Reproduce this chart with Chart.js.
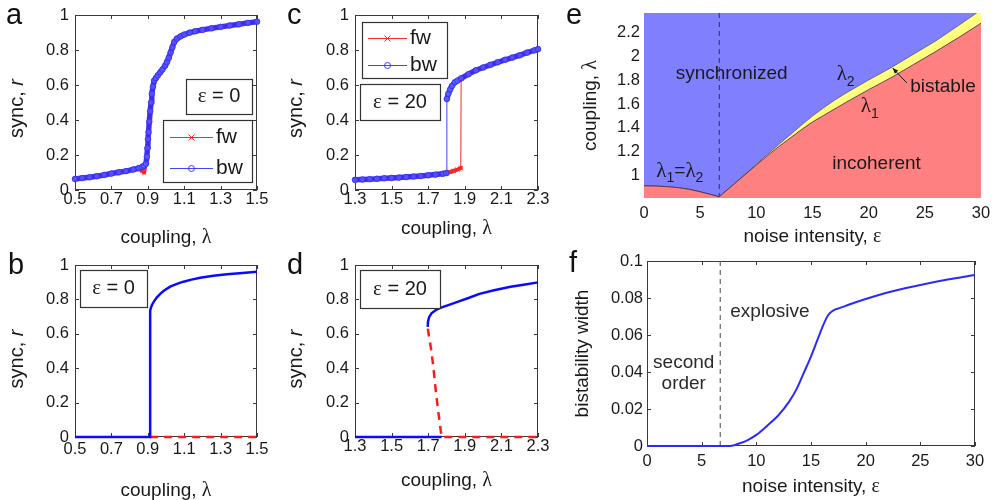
<!DOCTYPE html>
<html>
<head>
<meta charset="utf-8">
<script src="https://cdn.jsdelivr.net/npm/chart.js@4.4.1/dist/chart.umd.min.js"></script>
<style>
  body { margin: 0; background: #fff; }
  #wrap { position: relative; width: 995px; height: 500px; overflow: hidden; font-family: 'Liberation Sans', Arial, sans-serif; }
  canvas { position: absolute; }
  .tag { position: absolute; font-size: 29px; line-height: 29px; color: #111; z-index: 5; }
</style>
</head>
<body>
<div id="wrap">
  <div class="tag" style="left:6px;top:0px">a</div>
  <div class="tag" style="left:8px;top:250px">b</div>
  <div class="tag" style="left:287px;top:0px">c</div>
  <div class="tag" style="left:287px;top:250px">d</div>
  <div class="tag" style="left:566px;top:0px">e</div>
  <div class="tag" style="left:569px;top:248px">f</div>
  <canvas id="pa"></canvas>
  <canvas id="pb"></canvas>
  <canvas id="pc"></canvas>
  <canvas id="pd"></canvas>
  <canvas id="pe"></canvas>
  <canvas id="pf"></canvas>
</div>
<script>
// ---- data ----
// a: simulation at eps = 0 (forward / backward sweeps)
const aLam = [0.50,0.54,0.58,0.62,0.66,0.70,0.74,0.78,0.82,0.85,0.87,0.88,0.89,0.895,0.898,0.901,0.904,0.908,0.913,0.918,0.922,0.928,0.935,0.945,0.955,0.968,0.98,0.995,1.005,1.015,1.025,1.035,1.045,1.06,1.08,1.10,1.13,1.16,1.20,1.25,1.30,1.35,1.40,1.45,1.50];
const aBw = [0.063,0.068,0.073,0.079,0.086,0.094,0.101,0.108,0.117,0.125,0.133,0.14,0.15,0.19,0.24,0.29,0.33,0.39,0.45,0.50,0.55,0.59,0.625,0.64,0.655,0.672,0.688,0.71,0.73,0.755,0.785,0.815,0.845,0.865,0.878,0.888,0.899,0.907,0.915,0.924,0.932,0.94,0.947,0.955,0.962];
const aFw = [0.063,0.068,0.073,0.079,0.086,0.094,0.101,0.108,0.117,0.12,0.11,0.10,0.16,0.2,0.25,0.3,0.34,0.4,0.46,0.5,0.54,0.58,0.62,0.64,0.657,0.675,0.69,0.712,0.733,0.758,0.79,0.82,0.848,0.866,0.878,0.888,0.899,0.907,0.915,0.924,0.932,0.94,0.947,0.955,0.962];

// b: theory at eps = 0
const bLamStab = [0.5,0.913,0.913,0.918,0.925,0.935,0.95,0.968,0.99,1.023,1.06,1.096,1.14,1.188,1.26,1.335,1.42,1.5];
const bStab = [0,0,0.735,0.755,0.772,0.79,0.812,0.832,0.852,0.874,0.89,0.903,0.915,0.926,0.937,0.946,0.954,0.961];
const bLamUnst = [0.913, 1.5];
const bUnst = [0, 0];

// c: simulation at eps = 20
const cLamBw = [1.30,1.34,1.38,1.42,1.46,1.50,1.54,1.58,1.62,1.66,1.70,1.74,1.78,1.80,1.802,1.81,1.82,1.83,1.845,1.86,1.88,1.92,1.96,2.00,2.04,2.08,2.12,2.16,2.20,2.24,2.28,2.30];
const cBw = [0.058,0.060,0.062,0.064,0.067,0.069,0.071,0.074,0.077,0.080,0.084,0.088,0.093,0.097,0.52,0.55,0.575,0.595,0.615,0.625,0.638,0.662,0.684,0.70,0.715,0.73,0.744,0.757,0.77,0.785,0.798,0.805];
const cLamFw = [1.30,1.34,1.38,1.42,1.46,1.50,1.54,1.58,1.62,1.66,1.70,1.74,1.78,1.80,1.82,1.84,1.86,1.878,1.88,1.92,1.96,2.00,2.04,2.08,2.12,2.16,2.20,2.24,2.28,2.30];
const cFw = [0.058,0.060,0.062,0.064,0.067,0.069,0.071,0.074,0.077,0.080,0.084,0.088,0.093,0.097,0.103,0.110,0.117,0.125,0.636,0.662,0.684,0.70,0.715,0.73,0.744,0.757,0.77,0.785,0.798,0.805];

// d: theory at eps = 20
const dLamLow = [1.3, 1.773];
const dLow = [0, 0];
const dLamUp = [1.697,1.699,1.705,1.718,1.74,1.77,1.81,1.86,1.92,1.98,2.06,2.15,2.23,2.3];
const dUp = [0.64,0.67,0.697,0.719,0.737,0.752,0.767,0.786,0.808,0.832,0.853,0.873,0.887,0.899];
const dLamUnst = [1.698,1.705,1.715,1.727,1.74,1.755,1.773,2.3];
const dUnst = [0.63,0.58,0.516,0.419,0.283,0.147,0,0];

// e: phase diagram, lambda_1 / lambda_2 vs noise
const eEps = [0,1,2,3,4,5,6,6.7,7,8,9,10,11,12,13,14,15,16,17,18,20,22,24,26,28,30];
const eLam1 = [0.917,0.915,0.91,0.902,0.888,0.867,0.843,0.825,0.85,0.93,1.01,1.09,1.17,1.245,1.315,1.385,1.45,1.505,1.56,1.615,1.72,1.82,1.93,2.04,2.155,2.275];
const eLam2 = [0.917,0.915,0.91,0.902,0.888,0.867,0.843,0.825,0.85,0.931,1.013,1.096,1.181,1.262,1.341,1.422,1.499,1.568,1.634,1.692,1.80,1.903,2.016,2.128,2.255,2.385];

// f: bistability width
const fEps = [0,2,4,6,6.7,7.6,8.5,9.3,10,11,12,13,13.7,14.3,14.9,15.5,16,16.4,16.7,17.1,17.6,18.5,20,22,25,27.5,30];
const fW = [0,0,0,0,0,0,0.0015,0.0035,0.006,0.011,0.0165,0.024,0.031,0.039,0.047,0.056,0.0636,0.069,0.0717,0.0735,0.0745,0.0765,0.0795,0.083,0.087,0.09,0.0924];

const EPS_C = 6.7;

// ticks
const tA = [0.5,0.7,0.9,1.1,1.3,1.5];
const tC = [1.3,1.5,1.7,1.9,2.1,2.3];
const tR = [0,0.2,0.4,0.6,0.8,1];
const tEps = [0,5,10,15,20,25,30];
const tLamE = [1,1.2,1.4,1.6,1.8,2,2.2];
const tW = [0,0.02,0.04,0.06,0.08,0.1];

// ---- drawing ----
const SANS = "'Liberation Sans', Arial, Helvetica, sans-serif";
const SERIF = "'Liberation Serif', 'Times New Roman', serif";
const sans = (s, st) => `${st || ''} ${s}px ${SANS}`;
const serif = (s, st) => `${st || ''} ${s}px ${SERIF}`;
const INK = '#1a1a1a';
Chart.defaults.font.family = SANS;
Chart.defaults.color = INK;

const pts = (xs, ys) => xs.map((x, i) => ({ x: x, y: ys[i] }));
const jumpW = w => c => Math.abs(c.p1.parsed.y - c.p0.parsed.y) > 0.2 ? 1 : w;

function rich(ctx, parts, x, y, rot, align) {
  ctx.save();
  ctx.translate(x, y);
  if (rot) ctx.rotate(rot);
  let w = 0;
  const ws = parts.map(p => { ctx.font = p.f; const m = ctx.measureText(p.t).width; w += m; return m; });
  let cx = align === 'left' ? 0 : -w / 2;
  ctx.textBaseline = 'middle';
  ctx.textAlign = 'left';
  parts.forEach((p, i) => { ctx.font = p.f; ctx.fillText(p.t, cx, p.dy || 0); cx += ws[i]; });
  ctx.restore();
}

const deco = {
  id: 'deco',
  beforeDatasetsDraw(chart, args, o) {
    const a = chart.chartArea, c = chart.ctx, xs = chart.scales.x, ys = chart.scales.y;
    c.save();
    if (o.bg) { c.fillStyle = o.bg; c.fillRect(a.left, a.top, a.width, a.height); }
    if (o.frame) {
      c.strokeStyle = '#3a3a3a'; c.lineWidth = 1;
      c.strokeRect(a.left + 0.5, a.top + 0.5, a.width - 1, a.height - 1);
      c.beginPath();
      xs.ticks.forEach(t => {
        const p = Math.round(xs.getPixelForValue(t.value)) + 0.5;
        c.moveTo(p, a.bottom); c.lineTo(p, a.bottom - 4);
        c.moveTo(p, a.top); c.lineTo(p, a.top + 4);
      });
      ys.ticks.forEach(t => {
        const p = Math.round(ys.getPixelForValue(t.value)) + 0.5;
        c.moveTo(a.left, p); c.lineTo(a.left + 4, p);
        c.moveTo(a.right, p); c.lineTo(a.right - 4, p);
      });
      c.stroke();
    }
    c.restore();
  },
  afterDraw(chart, args, o) {
    const c = chart.ctx, a = chart.chartArea, xs = chart.scales.x, ys = chart.scales.y;
    c.save();
    c.fillStyle = INK;
    if (o.xTitle) rich(c, o.xTitle, (a.left + a.right) / 2, a.bottom + o.xOff, 0);
    if (o.yTitle) rich(c, o.yTitle, a.left - o.yOff, (a.top + a.bottom) / 2 + (o.yShift || 0), -Math.PI / 2);
    (o.boxes || []).forEach(b => {
      const bx = a.left + b.x, by = a.top + b.y;
      c.fillStyle = '#fff'; c.fillRect(bx, by, b.w, b.h);
      c.strokeStyle = '#333'; c.lineWidth = 1.2; c.strokeRect(bx + 0.5, by + 0.5, b.w, b.h);
      c.fillStyle = INK;
      if (b.parts) rich(c, b.parts, bx + b.w / 2, by + b.h / 2, 0);
      (b.rows || []).forEach(r => {
        const yy = a.top + r.y + 0.5, mx = a.left + (r.x1 + r.x2) / 2;
        c.strokeStyle = r.color; c.lineWidth = 1;
        c.beginPath(); c.moveTo(a.left + r.x1, yy); c.lineTo(a.left + r.x2, yy); c.stroke();
        c.beginPath();
        if (r.mark === 'x') { c.moveTo(mx - 3, yy - 3); c.lineTo(mx + 3, yy + 3); c.moveTo(mx - 3, yy + 3); c.lineTo(mx + 3, yy - 3); }
        else c.arc(mx, yy, 3, 0, 2 * Math.PI);
        c.stroke();
        c.fillStyle = INK;
        rich(c, [{ t: r.text, f: sans(21) }], a.left + r.x2 + 3, yy, 0, 'left');
      });
    });
    c.fillStyle = o.noteColor || INK;
    (o.notes || []).forEach(n => rich(c, n.parts, xs.getPixelForValue(n.x), ys.getPixelForValue(n.y), 0, n.align));
    (o.arrows || []).forEach(r => {
      const x1 = xs.getPixelForValue(r.x1), y1 = ys.getPixelForValue(r.y1);
      const x2 = xs.getPixelForValue(r.x2), y2 = ys.getPixelForValue(r.y2);
      const ang = Math.atan2(y2 - y1, x2 - x1);
      c.strokeStyle = INK; c.fillStyle = INK; c.lineWidth = 1;
      c.beginPath(); c.moveTo(x1, y1); c.lineTo(x2, y2); c.stroke();
      c.beginPath();
      c.moveTo(x2, y2);
      c.lineTo(x2 - 6 * Math.cos(ang - 0.4), y2 - 6 * Math.sin(ang - 0.4));
      c.lineTo(x2 - 6 * Math.cos(ang + 0.4), y2 - 6 * Math.sin(ang + 0.4));
      c.closePath(); c.fill();
    });
    c.restore();
  }
};

function axis(a, size, dir) {
  return {
    type: 'linear', min: a.min, max: a.max,
    grid: { display: false, drawTicks: false },
    border: { display: false },
    ticks: { padding: a.pad, font: { size: 16.5 }, color: INK, maxRotation: 0, autoSkip: false, callback: v => String(v) },
    afterBuildTicks: s => { s.ticks = a.ticks.map(v => ({ value: v })); },
    afterFit: s => {
      if (dir === 'x') s.height = size; else s.width = size;
      s.paddingLeft = 0; s.paddingRight = 0; s.paddingTop = 0; s.paddingBottom = 0;
    }
  };
}

function panel(id, box, plot, cfg) {
  const cv = document.getElementById(id);
  cv.width = box[2]; cv.height = box[3];
  cv.style.left = box[0] + 'px'; cv.style.top = box[1] + 'px';
  cv.style.width = box[2] + 'px'; cv.style.height = box[3] + 'px';
  const L = plot[0] - box[0], T = plot[1] - box[1];
  const R = box[0] + box[2] - plot[2], B = box[1] + box[3] - plot[3];
  return new Chart(cv, {
    type: 'line',
    data: { datasets: cfg.datasets },
    options: {
      responsive: false, animation: false, events: [],
      layout: { padding: { left: 0, top: T, right: R, bottom: 0 } },
      plugins: { legend: { display: false }, tooltip: { enabled: false }, deco: cfg.deco },
      scales: { x: axis(cfg.x, B, 'x'), y: axis(cfg.y, L, 'y') }
    },
    plugins: [deco]
  });
}

const BW = 'rgba(45,45,255,0.9)';
const FW = 'rgba(255,30,30,0.95)';
const coupling = [{ t: 'coupling, ', f: sans(19) }, { t: 'λ', f: serif(20) }];
const sync = [{ t: 'sync, ', f: sans(20) }, { t: 'r', f: sans(20, 'italic') }];
const noise = [{ t: 'noise intensity, ', f: sans(19) }, { t: 'ε', f: serif(20) }];
const epsBox = v => [{ t: 'ε', f: serif(21) }, { t: ' = ' + v, f: sans(20) }];

function simSet(xs, ys, color, style, w) {
  return {
    data: pts(xs, ys), borderColor: color, borderWidth: w, borderCapStyle: 'round', borderJoinStyle: 'round',
    segment: { borderWidth: jumpW(w) },
    pointStyle: style, pointRadius: style === 'circle' ? 2.8 : 3, pointBorderWidth: 1,
    pointBorderColor: color, pointBackgroundColor: 'rgba(130,130,255,0.4)', fill: false, clip: 6
  };
}
function lineSet(xs, ys, color, dash, w) {
  return { data: pts(xs, ys), borderColor: color, borderWidth: w, borderDash: dash || [], pointRadius: 0, fill: false, clip: 4 };
}

// a
panel('pa', [0, 0, 270, 250], [75, 15, 257, 190], {
  x: { min: 0.5, max: 1.5, ticks: tA, pad: 0 },
  y: { min: 0, max: 1, ticks: tR, pad: 6 },
  datasets: [simSet(aLam, aBw, BW, 'circle', 5.5), simSet(aLam, aFw, FW, 'crossRot', 4)],
  deco: {
    frame: true, xTitle: coupling, xOff: 48, yTitle: sync, yOff: 58, yShift: 6,
    boxes: [
      { x: 111, y: 64, w: 66, h: 35, parts: epsBox('0') },
      { x: 88, y: 105, w: 89, h: 62, rows: [
        { y: 122, x1: 95, x2: 138, color: FW, mark: 'x', text: 'fw' },
        { y: 153, x1: 95, x2: 138, color: BW, mark: 'o', text: 'bw' }
      ] }
    ]
  }
});

// b
panel('pb', [0, 250, 270, 250], [75, 265, 257, 437], {
  x: { min: 0.5, max: 1.5, ticks: tA, pad: 3 },
  y: { min: 0, max: 1, ticks: tR, pad: 6 },
  datasets: [lineSet(bLamStab, bStab, '#0a0aff', null, 2.5), lineSet(bLamUnst, bUnst, '#ff1a1a', [8, 6], 2.5)],
  deco: {
    frame: true, xTitle: coupling, xOff: 54, yTitle: sync, yOff: 58, yShift: 8,
    boxes: [{ x: 5, y: 5, w: 67, h: 37, parts: epsBox('0') }]
  }
});

// c
panel('pc', [270, 0, 285, 250], [355, 15, 538, 190], {
  x: { min: 1.3, max: 2.3, ticks: tC, pad: 0 },
  y: { min: 0, max: 1, ticks: tR, pad: 6 },
  datasets: [simSet(cLamBw, cBw, BW, 'circle', 5.5), simSet(cLamFw, cFw, FW, 'crossRot', 4)],
  deco: {
    frame: true, xTitle: coupling, xOff: 39, yTitle: sync, yOff: 59, yShift: 6,
    boxes: [
      { x: 7, y: 7, w: 85, h: 56, rows: [
        { y: 23, x1: 13, x2: 52, color: FW, mark: 'x', text: 'fw' },
        { y: 50, x1: 13, x2: 52, color: BW, mark: 'o', text: 'bw' }
      ] },
      { x: 5, y: 69, w: 80, h: 36, parts: epsBox('20') }
    ]
  }
});

// d
panel('pd', [270, 250, 285, 250], [355, 265, 538, 437], {
  x: { min: 1.3, max: 2.3, ticks: tC, pad: 0 },
  y: { min: 0, max: 1, ticks: tR, pad: 6 },
  datasets: [
    lineSet(dLamLow, dLow, '#0a0aff', null, 2.5),
    lineSet(dLamUp, dUp, '#0a0aff', null, 2.5),
    lineSet(dLamUnst, dUnst, '#ff1a1a', [8, 6], 2.5)
  ],
  deco: {
    frame: true, xTitle: coupling, xOff: 44, yTitle: sync, yOff: 59, yShift: 8,
    boxes: [{ x: 5, y: 5, w: 80, h: 38, parts: epsBox('20') }]
  }
});

// e
const lam = sub => [{ t: 'λ', f: serif(21) }, { t: sub, f: sans(14), dy: 7 }];
panel('pe', [550, 0, 445, 250], [644, 13, 981, 198], {
  x: { min: 0, max: 30, ticks: tEps, pad: 6 },
  y: { min: 0.815, max: 2.36, ticks: tLamE, pad: 4 },
  datasets: [
    Object.assign(lineSet(eEps, eLam1, 'rgba(40,30,60,0.75)', null, 1), { fill: 'start', backgroundColor: '#ff8080', clip: 0 }),
    Object.assign(lineSet(eEps, eLam2, 'rgba(40,30,60,0.6)', null, 0.8), { fill: 'start', backgroundColor: '#ffff80', clip: 0 }),
    Object.assign(lineSet([EPS_C, EPS_C], [0.815, 2.36], '#333', [5, 4], 1), { clip: 0 })
  ],
  deco: {
    bg: '#8080ff', xTitle: noise, xOff: 39, yTitle: coupling, yOff: 53,
    notes: [
      { x: 7.8, y: 1.854, parts: [{ t: 'synchronized', f: sans(19) }] },
      { x: 17.15, y: 1.845, parts: lam('2'), align: 'left' },
      { x: 19.3, y: 1.577, parts: lam('1'), align: 'left' },
      { x: 23.7, y: 1.743, parts: [{ t: 'bistable', f: sans(19) }], align: 'left' },
      { x: 20.7, y: 1.097, parts: [{ t: 'incoherent', f: sans(19) }] },
      { x: 1.1, y: 1.04, align: 'left', parts: [
        { t: 'λ', f: serif(21) }, { t: '1', f: sans(14), dy: 7 }, { t: '=', f: sans(19) },
        { t: 'λ', f: serif(21) }, { t: '2', f: sans(14), dy: 7 }] }
    ],
    arrows: [{ x1: 23.4, y1: 1.776, x2: 22.14, y2: 1.9 }]
  }
});

// f
panel('pf', [550, 250, 445, 250], [647, 261, 975, 446], {
  x: { min: 0, max: 30, ticks: tEps, pad: 6 },
  y: { min: 0, max: 0.1, ticks: tW, pad: 4 },
  datasets: [
    Object.assign(lineSet(fEps, fW, '#2a2aff', null, 2), { cubicInterpolationMode: 'monotone' }),
    lineSet([EPS_C, EPS_C], [0, 0.1], '#666', [5, 4], 1.2)
  ],
  deco: {
    frame: true, xTitle: noise, xOff: 41, yTitle: [{ t: 'bistability width', f: sans(19) }], yOff: 64,
    noteColor: '#2a2a2a',
    notes: [
      { x: 11.24, y: 0.0723, parts: [{ t: 'explosive', f: sans(19) }] },
      { x: 3.36, y: 0.0451, parts: [{ t: 'second', f: sans(19) }] },
      { x: 3.36, y: 0.0337, parts: [{ t: 'order', f: sans(19) }] }
    ]
  }
});
</script>
</body>
</html>
